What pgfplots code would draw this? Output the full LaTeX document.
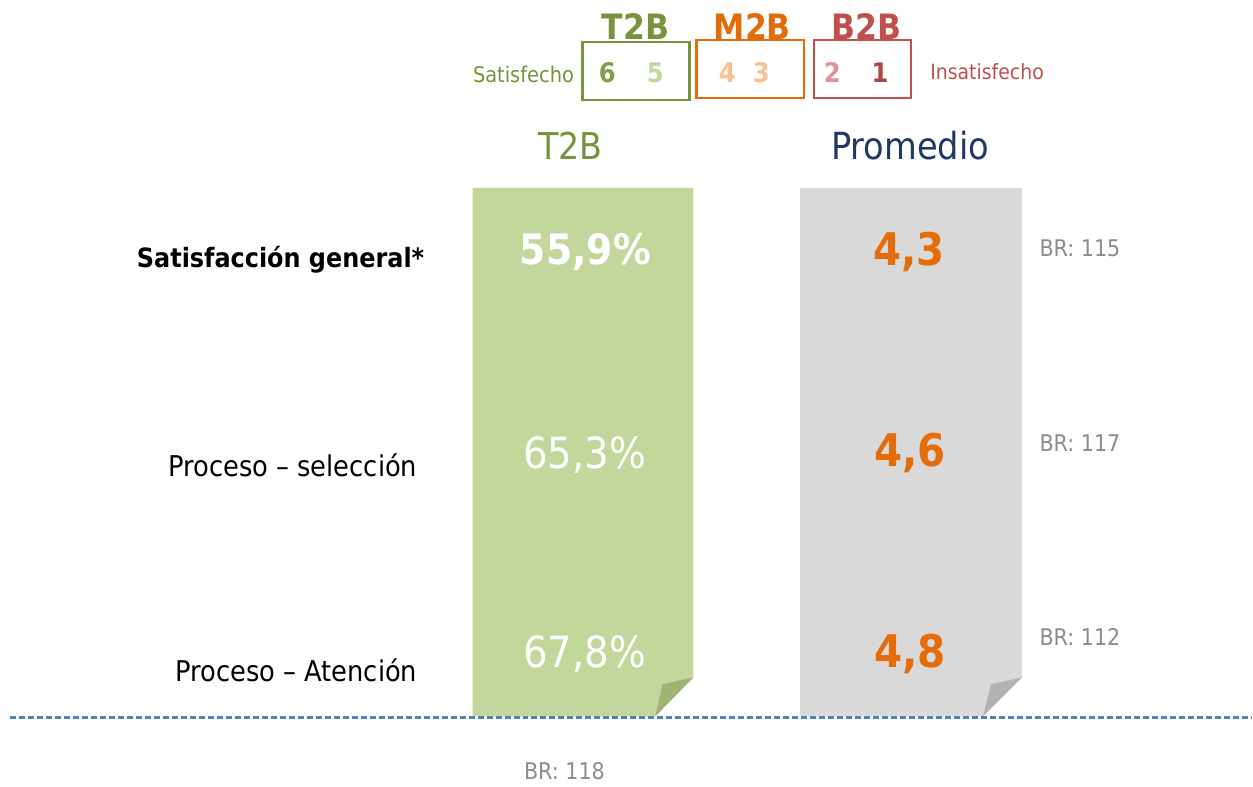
\documentclass[border=0pt]{standalone}
\usepackage{pgfplots}
\pgfplotsset{compat=1.18}
\usepackage{fontspec}
\setmainfont{DejaVu Sans Condensed}

\definecolor{olive}{HTML}{77933C}
\definecolor{lgreen}{HTML}{C3D69B}
\definecolor{foldgreen}{HTML}{9FB473}
\definecolor{orng}{HTML}{E36C09}
\definecolor{lorng}{HTML}{FAC090}
\definecolor{redb}{HTML}{C0504D}
\definecolor{pinkb}{HTML}{DA9694}
\definecolor{navy}{HTML}{1F3864}
\definecolor{valorng}{HTML}{E46C0A}
\definecolor{brgray}{HTML}{8C8C8C}
\definecolor{panelgray}{HTML}{D9D9D9}
\definecolor{foldgray}{HTML}{B2B2B2}
\definecolor{dashblue}{HTML}{4F81BD}

\pgfkeys{/pgf/number format/assume math mode=true}

\begin{document}
\begin{tikzpicture}
\begin{axis}[
    width=626.5pt, height=392pt, scale only axis,
    xmin=0, xmax=1253, ymin=0, ymax=784, y dir=reverse,
    hide axis, clip=false,
]
% keep the full frame in the bounding box
\path (rel axis cs:0,0) (rel axis cs:1,1);

% panels
\addplot[fill=lgreen, draw=none] coordinates {(473,188) (694,188) (694,678) (656,717) (473,717)} --cycle;
\addplot[fill=foldgreen, draw=none] coordinates {(694,678) (663,685) (656,717)} --cycle;
\addplot[fill=panelgray, draw=none] coordinates {(801,188) (1023,188) (1023,678) (984,717) (801,717)} --cycle;
\addplot[fill=foldgray, draw=none] coordinates {(1023,678) (992,685) (984,717)} --cycle;

% baseline
\addplot[draw=dashblue, line width=1.2pt, dash pattern=on 3pt off 1.5pt] coordinates {(10,718) (1253,718)};

% T2B values
\addplot[only marks, mark=none, point meta=explicit,
    nodes near coords={\pgfmathprintnumber[fixed,fixed zerofill,precision=1,use comma]{\pgfplotspointmeta}\%},
    every node near coord/.style={anchor=center, text=white, font=\fontsize{21}{25}\selectfont\bfseries}]
    coordinates {(586,252) [55.9]};
\addplot[only marks, mark=none, point meta=explicit,
    nodes near coords={\pgfmathprintnumber[fixed,fixed zerofill,precision=1,use comma]{\pgfplotspointmeta}\%},
    every node near coord/.style={anchor=center, text=white, font=\fontsize{21.5}{25}\selectfont}]
    coordinates {(585,455) [65.3] (585,655) [67.8]};

% averages
\addplot[only marks, mark=none, point meta=explicit,
    nodes near coords={\pgfmathprintnumber[fixed,fixed zerofill,precision=1,use comma]{\pgfplotspointmeta}},
    every node near coord/.style={anchor=center, text=valorng, font=\fontsize{22.5}{26}\selectfont\bfseries}]
    coordinates {(910,252) [4.3] (911,453) [4.6] (911,655) [4.8]};

% base sizes
\addplot[only marks, mark=none, point meta=explicit,
    nodes near coords={BR: \pgfmathprintnumber{\pgfplotspointmeta}},
    every node near coord/.style={anchor=center, text=brgray, font=\fontsize{11.5}{13}\selectfont}]
    coordinates {(1081,249) [115] (1081,444) [117] (1081,638) [112] (565,772) [118]};

% row labels
\node[anchor=east, inner sep=0pt, font=\fontsize{13.3}{16}\selectfont\bfseries] at (axis cs:425,260) {Satisfacción general*};
\node[anchor=east, inner sep=0pt, font=\fontsize{14.3}{17}\selectfont] at (axis cs:418,466) {Proceso – selección};
\node[anchor=east, inner sep=0pt, font=\fontsize{14.3}{17}\selectfont] at (axis cs:418,671) {Proceso – Atención};

% headers
\node[text=olive, font=\fontsize{18.5}{22}\selectfont] at (axis cs:571,146) {T2B};
\node[text=navy, font=\fontsize{18.7}{22}\selectfont] at (axis cs:911,146) {Promedio};

% scale legend
\node[text=olive, font=\fontsize{17.5}{20}\selectfont\bfseries] at (axis cs:636,27) {T2B};
\node[text=orng, font=\fontsize{17.5}{20}\selectfont\bfseries] at (axis cs:753,27) {M2B};
\node[text=redb, font=\fontsize{17.5}{20}\selectfont\bfseries] at (axis cs:867,27) {B2B};
\draw[olive, line width=1.2pt] (axis cs:583,42) rectangle (axis cs:690,100);
\draw[orng, line width=1.2pt] (axis cs:697,40) rectangle (axis cs:805,98);
\draw[redb, line width=1.2pt] (axis cs:815,40) rectangle (axis cs:912,98);
\node[text=olive!85!lgreen, font=\fontsize{13.5}{15}\selectfont\bfseries] at (axis cs:608,73) {6};
\node[text=lgreen, font=\fontsize{13.5}{15}\selectfont\bfseries] at (axis cs:656,73) {5};
\node[text=lorng, font=\fontsize{13.5}{15}\selectfont\bfseries] at (axis cs:728,73) {4};
\node[text=lorng, font=\fontsize{13.5}{15}\selectfont\bfseries] at (axis cs:762,73) {3};
\node[text=pinkb, font=\fontsize{13.5}{15}\selectfont\bfseries] at (axis cs:833,73) {2};
\node[text=redb!90!black, font=\fontsize{13.5}{15}\selectfont\bfseries] at (axis cs:881,73) {1};
\node[text=olive, font=\fontsize{10.8}{12}\selectfont] at (axis cs:524,75) {Satisfecho};
\node[text=redb, font=\fontsize{10.5}{12}\selectfont] at (axis cs:988,72) {Insatisfecho};
\end{axis}
\end{tikzpicture}
\end{document}
